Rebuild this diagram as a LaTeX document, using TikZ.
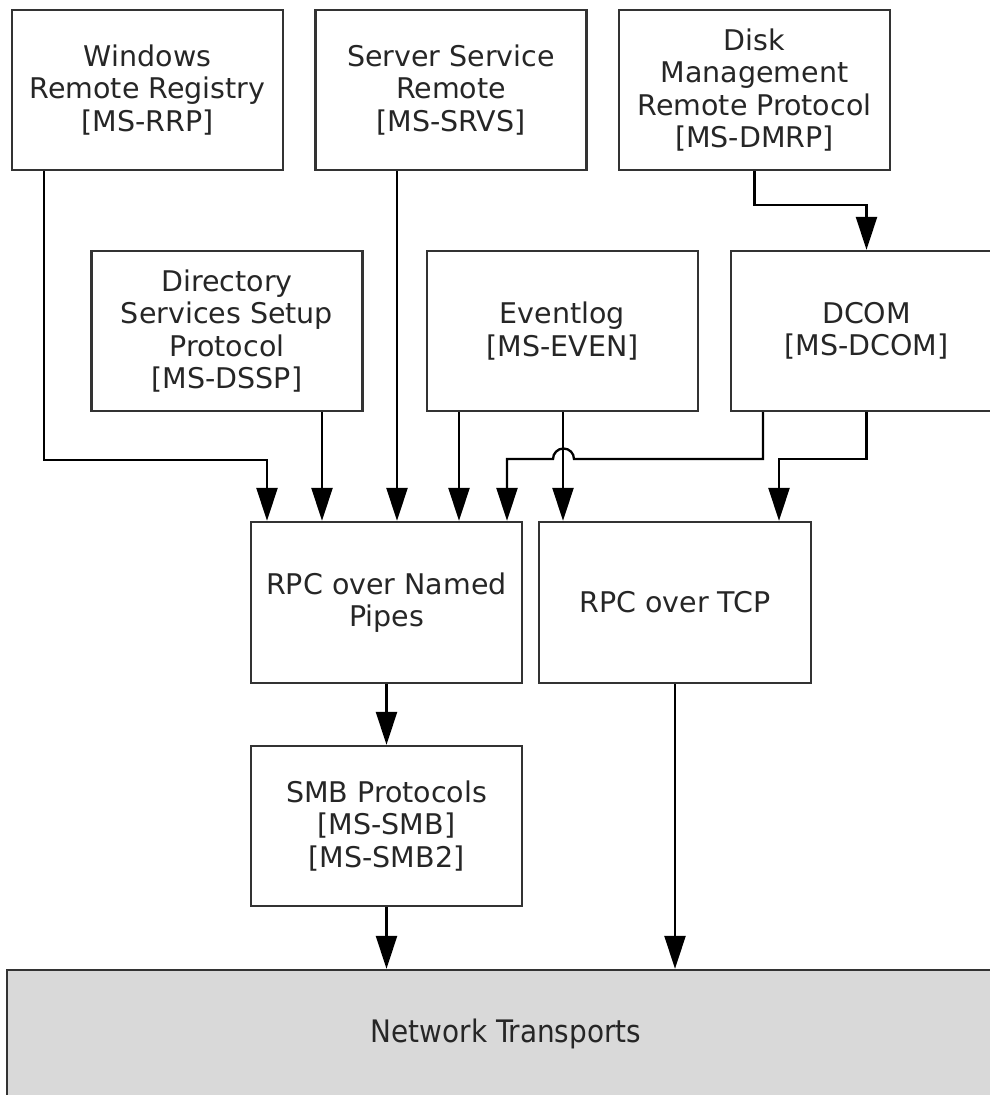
\documentclass[tikz,border=0pt]{standalone}
\usepackage{fontspec}
\setmainfont{DejaVu Sans}
\newfontfamily\condfont{DejaVu Sans Condensed}
\usetikzlibrary{arrows.meta}
\begin{document}
\begin{tikzpicture}[x=1pt,y=-1pt,
  box/.style={draw=black!80, line width=2.3pt, fill=white, minimum width=271pt, minimum height=160pt,
    inner sep=0pt, align=center, text=black!85, font=\fontsize{28.5}{32.5}\selectfont},
  arr/.style={draw=black, line width=2.3pt, -{Triangle[length=33pt,width=21pt]}}]
\useasboundingbox (0,0) rectangle (990,1095);
\clip (0,0) rectangle (990,1095);
% nodes
\node[box] (rrp)  at (147.5,90) {Windows\\Remote Registry\\{[MS-RRP]}};
\node[box] (srvs) at (451,90) {Server Service\\Remote\\{[MS-SRVS]}};
\node[box] (dmrp) at (754.5,90) {Disk\\Management\\Remote Protocol\\{[MS-DMRP]}};
\node[box] (dssp) at (227,331) {Directory\\Services Setup\\Protocol\\{[MS-DSSP]}};
\node[box] (even) at (562.5,331) {Eventlog\\{[MS-EVEN]}};
\node[box] (dcom) at (866.5,331) {DCOM\\{[MS-DCOM]}};
\node[box, minimum height=161pt] (npipe) at (386.5,602.5) {RPC over Named\\Pipes};
\node[box, minimum height=161pt, minimum width=272pt] (tcp) at (675,602.5) {RPC over TCP};
\node[box] (smb) at (386.5,826) {SMB Protocols\\{[MS-SMB]}\\{[MS-SMB2]}};
\node[box, fill=black!15, minimum width=998pt, minimum height=128pt,
  font=\condfont\fontsize{31}{36}\selectfont] (net) at (506,1034) {Network Transports};
% connectors
\draw[arr] (rrp.south -| 44,0) -- (44,460) -| (npipe.north -| 267,0);
\draw[arr] (dssp.south -| 322,0) -- (npipe.north -| 322,0);
\draw[arr] (srvs.south -| 397,0) -- (npipe.north -| 397,0);
\draw[arr] (even.south -| 459,0) -- (npipe.north -| 459,0);
\draw[arr] (dcom.south -| 763,0) -- (763,459) -- (574,459)
   arc[start angle=0, end angle=-180, radius=10.5] -- (507,459) -- (npipe.north -| 507,0);
\draw[arr] (even.south -| 563,0) -- (tcp.north -| 563,0);
\draw[arr] (dcom.south) -- (866.5,459) -| (tcp.north -| 779,0);
\draw[arr] (dmrp.south) -- (754.5,205) -| (dcom.north);
\draw[arr] (npipe.south) -- (smb.north);
\draw[arr] (smb.south) -- (net.north -| smb.south);
\draw[arr] (tcp.south) -- (net.north -| tcp.south);
\end{tikzpicture}
\end{document}
